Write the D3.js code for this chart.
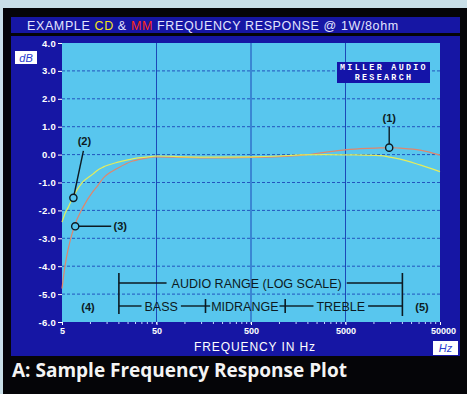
<!DOCTYPE html>
<html><head><meta charset="utf-8">
<script src="https://cdn.jsdelivr.net/npm/d3@7"></script>
<style>
html,body{margin:0;padding:0;background:#c9dfe8;}
svg{display:block;}
</style></head>
<body>
<script>
// ---- data ----
const freqs = [5, 5.4, 5.8, 6.7, 8.3, 10.6, 12, 13.6, 19.6, 28, 32, 43, 50, 100, 200, 500, 1000, 1650, 3000, 5600, 11600, 14800, 18900, 30700, 50000];
const cdValues = [-2.42, -2.1, -1.9, -1.45, -0.98, -0.7, -0.55, -0.45, -0.27, -0.15, -0.12, -0.07, -0.05, -0.08, -0.09, -0.08, -0.05, -0.01, 0.0, -0.01, -0.04, -0.09, -0.16, -0.37, -0.61];
const mmValues = [-4.8, -3.96, -3.4, -2.6, -1.9, -1.33, -1.1, -0.85, -0.48, -0.23, -0.18, -0.1, -0.08, -0.1, -0.12, -0.1, -0.07, -0.03, 0.08, 0.19, 0.24, 0.25, 0.23, 0.16, -0.02];
const xTicks = [5, 50, 500, 5000, 50000];
const xTickLabels = ["5", "50", "500", "5000", "50000"];
const yTicks = [4, 3, 2, 1, 0, -1, -2, -3, -4, -5, -6];
const yTickLabels = ["4.0", "3.0", "2.0", "1.0", "0.0", "-1.0", "-2.0", "-3.0", "-4.0", "-5.0", "-6.0"];
const bandEdges = [20, 165, 1150, 20000];
const bandNames = ["BASS", "MIDRANGE", "TREBLE"];
const rangeLabel = "AUDIO RANGE (LOG SCALE)";

const W = 467, H = 394;
const L = 62, R = 440, T = 43, B = 322;
const SANS = "Liberation Sans, Arial, sans-serif";

const svg = d3.select("body").append("svg").attr("width", W).attr("height", H);
// frame
svg.append("rect").attr("x", 3).attr("y", 8).attr("width", W - 3).attr("height", H - 8).attr("fill", "#050508");
const blue = "#1616a4";
svg.append("rect").attr("x", 11).attr("y", 17).attr("width", 449).attr("height", 16).attr("fill", blue);
svg.append("rect").attr("x", 11).attr("y", 36).attr("width", 449).attr("height", 320).attr("fill", blue);

// title
const title = svg.append("text").attr("x", 27).attr("y", 29.5)
  .attr("font-family", SANS).attr("font-size", 12.5).attr("letter-spacing", 0.62).attr("fill", "#e2e4ff");
title.append("tspan").text("EXAMPLE ");
title.append("tspan").attr("fill", "#f2e21c").text("CD");
title.append("tspan").text(" & ");
title.append("tspan").attr("fill", "#ff2a18").text("MM");
title.append("tspan").text(" FREQUENCY RESPONSE @ 1W/8ohm");

const x = d3.scaleLog().domain([5, 50000]).range([L, R]);
const y = d3.scaleLinear().domain([-6, 4]).range([B, T]);

// plot bg
svg.append("rect").attr("x", L).attr("y", T).attr("width", R - L).attr("height", B - T).attr("fill", "#58c6ee");

// grid
const gridColor = "#1c48b8";
svg.append("g").selectAll("line").data(yTicks.filter(d => d > -6 && d < 4)).join("line")
  .attr("x1", L).attr("x2", R).attr("y1", d => y(d)).attr("y2", d => y(d))
  .attr("stroke", gridColor).attr("stroke-width", 0.9).attr("stroke-dasharray", "3,2");
svg.append("g").selectAll("line").data(xTicks.slice(1, -1)).join("line")
  .attr("x1", d => x(d)).attr("x2", d => x(d)).attr("y1", T).attr("y2", B)
  .attr("stroke", gridColor).attr("stroke-width", 1);

// y axis
const yAxis = svg.append("g").attr("transform", `translate(${L},0)`)
  .call(d3.axisLeft(y).tickValues(yTicks).tickFormat((d, i) => yTickLabels[i]).tickSize(4).tickPadding(2));
yAxis.select(".domain").remove();
yAxis.selectAll("line").attr("stroke", "#ffffff");
yAxis.selectAll("text").attr("fill", "#ffffff").attr("font-family", SANS)
  .attr("font-size", 9.5).attr("font-weight", "bold").attr("letter-spacing", 0.3);

// x axis
const minor = [];
for (let dec = 1; dec <= 10000; dec *= 10) for (let k = 1; k < 10; k++) { const v = 5 * dec * k; if (v > 5 && v < 50000) minor.push(v); }
svg.append("g").selectAll("line").data(minor).join("line")
  .attr("x1", d => x(d)).attr("x2", d => x(d)).attr("y1", B).attr("y2", B + 2)
  .attr("stroke", "#c8d8ff").attr("stroke-width", 1);
const xAxis = svg.append("g").attr("transform", `translate(0,${B})`)
  .call(d3.axisBottom(x).tickValues(xTicks).tickFormat((d, i) => xTickLabels[i]).tickSize(3).tickPadding(3));
xAxis.select(".domain").remove();
xAxis.selectAll("line").attr("stroke", "#ffffff");
xAxis.selectAll("text").attr("fill", "#ffffff").attr("font-family", SANS)
  .attr("font-size", 9).attr("font-weight", "bold");
xAxis.selectAll(".tick").filter(d => d === 50000).select("text").attr("dx", 3);

svg.append("text").attr("x", 255).attr("y", 351).attr("text-anchor", "middle")
  .attr("font-family", SANS).attr("font-size", 12).attr("letter-spacing", 0.9).attr("fill", "#ffffff")
  .text("FREQUENCY IN Hz");

// badges
svg.append("rect").attr("x", 15).attr("y", 51).attr("width", 22).attr("height", 13).attr("fill", "#ffffff");
svg.append("text").attr("x", 26).attr("y", 61.5).attr("text-anchor", "middle").attr("font-style", "italic")
  .attr("font-family", SANS).attr("font-size", 11).attr("fill", "#2a3cd0").text("dB");
svg.append("rect").attr("x", 433).attr("y", 341).attr("width", 25).attr("height", 14).attr("fill", "#ffffff");
svg.append("text").attr("x", 445.5).attr("y", 352).attr("text-anchor", "middle").attr("font-style", "italic")
  .attr("font-family", SANS).attr("font-size", 11).attr("fill", "#2a3cd0").text("Hz");

// Miller Audio box
svg.append("rect").attr("x", 337).attr("y", 62).attr("width", 93).attr("height", 21).attr("fill", "#1414a8");
const MONO = "Liberation Mono, DejaVu Sans Mono, monospace";
svg.append("text").attr("x", 384).attr("y", 70.2).attr("text-anchor", "middle")
  .attr("font-family", MONO).attr("font-weight", "bold").attr("font-size", 8.4).attr("letter-spacing", 2.3)
  .attr("fill", "#ffffff").text("MILLER AUDIO");
svg.append("text").attr("x", 384).attr("y", 80.4).attr("text-anchor", "middle")
  .attr("font-family", MONO).attr("font-weight", "bold").attr("font-size", 8.4).attr("letter-spacing", 2.3)
  .attr("fill", "#ffffff").text("RESEARCH");

// curves
const line = d3.line().x(d => x(d[0])).y(d => y(d[1])).curve(d3.curveMonotoneX);
svg.append("path").datum(freqs.map((f, i) => [f, mmValues[i]])).attr("d", line)
  .attr("fill", "none").attr("stroke", "#e0866c").attr("stroke-width", 1.2);
svg.append("path").datum(freqs.map((f, i) => [f, cdValues[i]])).attr("d", line)
  .attr("fill", "none").attr("stroke", "#e4ec5c").attr("stroke-width", 1.2);

// annotations
const ink = "#0c1a22";
const annFont = g => g.attr("font-family", SANS).attr("font-size", 11)
  .attr("font-weight", "bold").attr("fill", ink).attr("text-anchor", "middle");
function marker(cx, cy) {
  svg.append("circle").attr("cx", cx).attr("cy", cy).attr("r", 3.6).attr("fill", "#58c6ee")
    .attr("stroke", ink).attr("stroke-width", 1.4);
}
// (1) on MM at ~14.5k
{
  const cx = x(14500), cy = y(0.25);
  svg.append("line").attr("x1", cx).attr("x2", cx).attr("y1", cy - 3.6).attr("y2", cy - 21).attr("stroke", ink).attr("stroke-width", 1.4);
  marker(cx, cy);
  svg.append("text").attr("x", cx).attr("y", cy - 26).call(annFont).text("(1)");
}
// (2) on CD at ~6.6 Hz
{
  const cx = x(6.6), cy = y(-1.55);
  svg.append("line").attr("x1", cx + 0.8).attr("y1", cy - 3.6).attr("x2", cx + 10).attr("y2", cy - 47).attr("stroke", ink).attr("stroke-width", 1.4);
  marker(cx, cy);
  svg.append("text").attr("x", cx + 11).attr("y", cy - 53).call(annFont).text("(2)");
}
// (3) on MM at ~6.9 Hz
{
  const cx = x(6.9), cy = y(-2.57);
  svg.append("line").attr("x1", cx + 3.6).attr("y1", cy).attr("x2", cx + 36).attr("y2", cy).attr("stroke", ink).attr("stroke-width", 1.4);
  marker(cx, cy);
  svg.append("text").attr("x", cx + 45).attr("y", cy + 4).call(annFont).text("(3)");
}
svg.append("text").attr("x", 88).attr("y", 311).call(annFont).text("(4)");
svg.append("text").attr("x", 422).attr("y", 311).call(annFont).text("(5)");

// audio range bracket
const br = svg.append("g");
const row1 = 283, row2 = 306;
const bx0 = x(bandEdges[0]), bx1 = x(bandEdges[3]);
const bFont = t => t.attr("font-family", SANS).attr("font-size", 12.5)
  .attr("fill", ink).attr("text-anchor", "middle");
const seg = (x1, x2, yy) => br.append("line").attr("x1", x1).attr("x2", x2).attr("y1", yy).attr("y2", yy).attr("stroke", ink).attr("stroke-width", 1.4);
const vseg = (xx, y1, y2) => br.append("line").attr("x1", xx).attr("x2", xx).attr("y1", y1).attr("y2", y2).attr("stroke", ink).attr("stroke-width", 1.6);
vseg(bx0, 273, 314);
vseg(bx1, 273, 316);
const t1 = br.append("text").attr("x", (bx0 + bx1) / 2 - 4).attr("y", row1 + 4.5).call(bFont).text(rangeLabel);
let bb = t1.node().getBBox();
seg(bx0, bb.x - 5, row1); seg(bb.x + bb.width + 5, bx1, row1);
for (let i = 1; i < bandEdges.length - 1; i++) vseg(x(bandEdges[i]), 299, 313);
bandNames.forEach((name, i) => {
  const a = x(bandEdges[i]), b = x(bandEdges[i + 1]);
  const cxp = i === 0 ? (a + b) / 2 - 1 : i === 1 ? (a + b) / 2 - 0.5 : (a + b) / 2 - 3;
  const t = br.append("text").attr("x", cxp).attr("y", row2 + 4.5).call(bFont).text(name);
  const tb = t.node().getBBox();
  const pad = i === 1 ? 1 : 3;
  seg(a, tb.x - pad, row2); seg(tb.x + tb.width + pad, b, row2);
});

// caption
svg.append("text").attr("x", 12).attr("y", 377)
  .attr("font-family", "Open Sans, Noto Sans, sans-serif").attr("font-weight", "bold").attr("font-size", 19)
  .attr("fill", "#f4f4f4").text("A: Sample Frequency Response Plot");
</script>
</body></html>
